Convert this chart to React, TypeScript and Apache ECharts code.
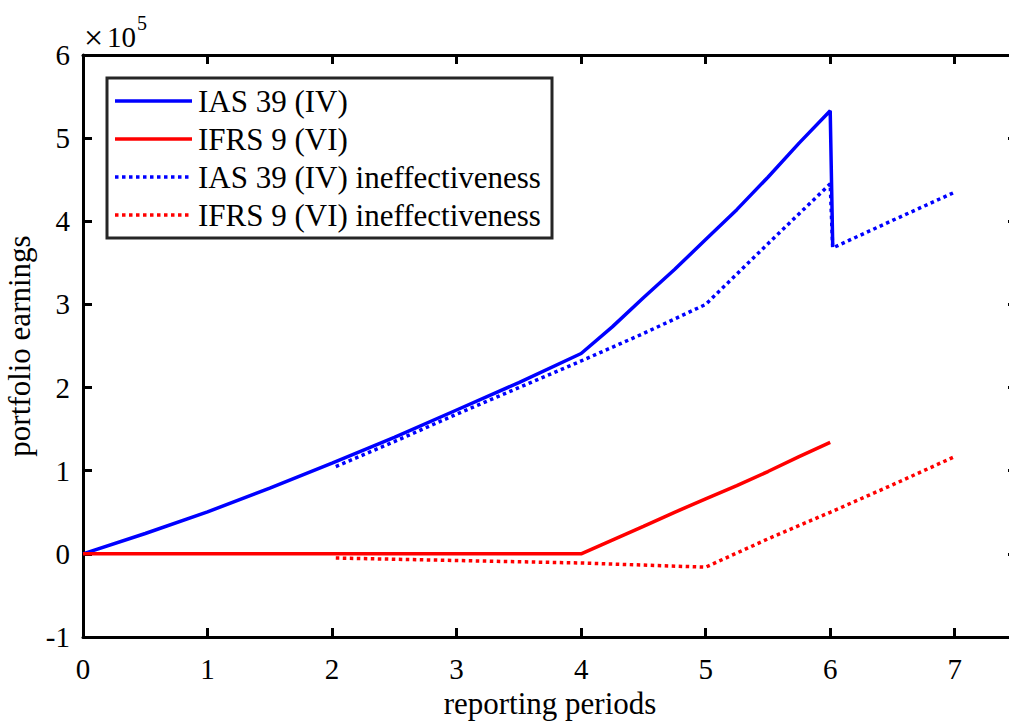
import React, { useEffect, useRef } from "react";
import * as echarts from "echarts";

const SERIES_NAMES = [
  "IAS 39 (IV)",
  "IFRS 9 (VI)",
  "IAS 39 (IV) ineffectiveness",
  "IFRS 9 (VI) ineffectiveness",
];

const ias39X = [0, 0.5, 1, 1.5, 2, 2.5, 3, 3.5, 4, 4.25, 4.5, 4.75, 5, 5.25, 5.5, 5.75, 6, 6.02];
const ias39Y = [0, 24500, 50500, 79000, 109000, 140000, 173000, 206000, 241000, 273000, 308000, 342000, 378000, 414000, 453000, 494000, 533000, 372000];

const ifrs9X = [0, 1, 2, 3, 4, 4.25, 4.5, 4.75, 5, 5.25, 5.5, 5.75, 6];
const ifrs9Y = [0, 0, 0, 0, 0, 16500, 33000, 50000, 66000, 82000, 99000, 117000, 134000];

const ias39IneffX = [2.03, 2.5, 3, 3.5, 4, 4.5, 5, 5.5, 6, 6.02, 6.5, 7];
const ias39IneffY = [105000, 135000, 168000, 200000, 232000, 265000, 300000, 373000, 445000, 368000, 401000, 435000];

const ifrs9IneffX = [2.03, 3, 4, 5, 5.5, 6, 6.5, 7];
const ifrs9IneffY = [-5000, -8000, -11000, -16000, 18000, 50000, 83000, 117000];

const COLORS = ["#0000ff", "#ff0000", "#0000ff", "#ff0000"];
const DASHED = [false, false, true, true];

const FONT = "'Liberation Serif', 'Times New Roman', serif";

const zip = (xs: number[], ys: number[]) => xs.map((x, i) => [x, ys[i]]);

export default function App() {
  const ref = useRef<HTMLDivElement>(null);
  useEffect(() => {
    if (!ref.current) return;
    const chart = echarts.init(ref.current, undefined, { renderer: "svg" });
    const datasets = [
      zip(ias39X, ias39Y),
      zip(ifrs9X, ifrs9Y),
      zip(ias39IneffX, ias39IneffY),
      zip(ifrs9IneffX, ifrs9IneffY),
    ];
    const dot = [3.5, 3.5];
    const series = datasets.map((d, i) => ({
      name: SERIES_NAMES[i],
      type: "line",
      data: d,
      symbol: "none",
      showSymbol: false,
      xAxisIndex: 0,
      yAxisIndex: 0,
      lineStyle: {
        color: COLORS[i],
        width: 3.5,
        type: DASHED[i] ? dot : "solid",
        cap: "butt",
      },
      z: 2 + (DASHED[i] ? 0 : 1),
    }));

    const legendX = 107;
    const legendY = 78;
    const rowY = [101, 139, 177, 215];
    const legendGraphics: any[] = [
      {
        type: "rect",
        shape: { x: legendX, y: legendY, width: 445, height: 160 },
        style: { fill: "#ffffff", stroke: "#262626", lineWidth: 3 },
        z: 100,
      },
    ];
    SERIES_NAMES.forEach((n, i) => {
      legendGraphics.push({
        type: "line",
        shape: { x1: 115, y1: rowY[i], x2: 192, y2: rowY[i] },
        style: {
          stroke: COLORS[i],
          lineWidth: 3.5,
          lineDash: DASHED[i] ? dot : null,
        },
        z: 101,
      });
      legendGraphics.push({
        type: "text",
        style: {
          x: 198,
          y: rowY[i],
          text: n,
          fill: "#000",
          fontFamily: FONT,
          fontSize: 31,
          textAlign: "left",
          textVerticalAlign: "middle",
        },
        z: 101,
      });
    });

    const axisLineStyle = { color: "#000", width: 3 };
    const tickStyle = { show: true, inside: true, length: 9, lineStyle: { color: "#000", width: 3 } };

    chart.setOption({
      animation: false,
      backgroundColor: "#ffffff",
      textStyle: { fontFamily: FONT },
      grid: {
        left: 83,
        top: 55,
        width: 934,
        height: 582,
        containLabel: false,
        outerBoundsMode: "none",
      },
      xAxis: [
        {
          type: "value",
          min: 0,
          max: 7.5,
          interval: 1,
          position: "bottom",
          name: "reporting periods",
          nameLocation: "middle",
          nameGap: 51,
          nameTextStyle: { fontFamily: FONT, fontSize: 31, color: "#000" },
          axisLine: { show: true, onZero: false, lineStyle: axisLineStyle },
          axisTick: tickStyle,
          splitLine: { show: false },
          axisLabel: {
            fontFamily: FONT,
            fontSize: 29,
            color: "#000",
            margin: 17,
            formatter: (v: number) => (Number.isInteger(v) ? String(v) : ""),
          },
        },
        {
          type: "value",
          min: 0,
          max: 7.5,
          interval: 1,
          position: "top",
          axisLine: { show: true, onZero: false, lineStyle: axisLineStyle },
          axisTick: tickStyle,
          axisLabel: { show: false },
          splitLine: { show: false },
        },
      ],
      yAxis: [
        {
          type: "value",
          min: -100000,
          max: 600000,
          interval: 100000,
          position: "left",
          name: "portfolio earnings",
          nameLocation: "middle",
          nameRotate: 90,
          nameGap: 37,
          nameTextStyle: { fontFamily: FONT, fontSize: 31, color: "#000" },
          axisLine: { show: true, onZero: false, lineStyle: axisLineStyle },
          axisTick: tickStyle,
          splitLine: { show: false },
          axisLabel: {
            fontFamily: FONT,
            fontSize: 29,
            color: "#000",
            margin: 13,
            formatter: (v: number) => String(Math.round(v / 100000)),
          },
        },
        {
          type: "value",
          min: -100000,
          max: 600000,
          interval: 100000,
          position: "right",
          axisLine: { show: true, onZero: false, lineStyle: axisLineStyle },
          axisTick: tickStyle,
          axisLabel: { show: false },
          splitLine: { show: false },
        },
      ],
      series,
      graphic: [
        {
          type: "text",
          style: {
            x: 84,
            y: 37,
            text: "×",
            fill: "#000",
            fontFamily: FONT,
            fontSize: 34,
            textAlign: "left",
            textVerticalAlign: "middle",
          },
        },
        {
          type: "text",
          style: {
            x: 107,
            y: 37,
            text: "10",
            fill: "#000",
            fontFamily: FONT,
            fontSize: 29,
            textAlign: "left",
            textVerticalAlign: "middle",
          },
        },
        {
          type: "text",
          style: {
            x: 137,
            y: 23,
            text: "5",
            fill: "#000",
            fontFamily: FONT,
            fontSize: 20,
            textAlign: "left",
            textVerticalAlign: "middle",
          },
        },
        ...legendGraphics,
      ],
    });
    return () => chart.dispose();
  }, []);

  return (
    <div
      style={{
        position: "absolute",
        left: 0,
        top: 0,
        width: 1009,
        height: 722,
        overflow: "hidden",
        background: "#fff",
      }}
    >
      <div ref={ref} style={{ width: 1030, height: 722 }} />
    </div>
  );
}
